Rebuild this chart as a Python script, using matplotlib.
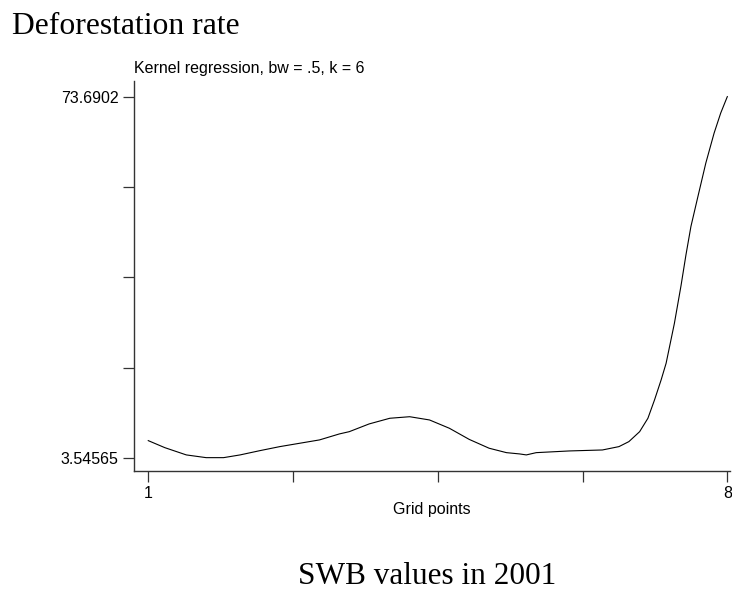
import matplotlib
matplotlib.use("Agg")
import matplotlib.pyplot as plt

# kernel regression curve
grid = [1.00, 1.20, 1.46, 1.70, 1.91, 2.11, 2.35, 2.59, 2.83, 3.07, 3.31, 3.43,
        3.67, 3.92, 4.16, 4.40, 4.64, 4.88, 5.12, 5.33, 5.49, 5.57, 5.69, 6.09,
        6.49, 6.69, 6.81, 6.94, 7.04, 7.12, 7.20, 7.26, 7.36, 7.44, 7.50, 7.56,
        7.64, 7.74, 7.84, 7.92, 8.00]
defor = [6.96, 5.60, 4.19, 3.66, 3.66, 4.19, 5.02, 5.80, 6.45, 7.10, 8.26, 8.70,
         10.20, 11.30, 11.60, 10.97, 9.36, 7.20, 5.49, 4.63, 4.38, 4.19, 4.63, 4.96,
         5.15, 5.80, 6.77, 8.70, 11.30, 14.86, 18.75, 21.97, 29.70, 37.00, 43.00, 48.50,
         54.00, 60.80, 66.60, 70.50, 73.69]

ymin, ymax = 3.54565, 73.6902
xticks = [1, 2.75, 4.5, 6.25, 8]
xlabels = ["1", "", "", "", "8"]
yticks = [ymin + i * (ymax - ymin) / 4 for i in range(5)]
ylabels = ["3.54565", "", "", "", "73.6902"]

fig = plt.figure(figsize=(7.32, 5.92), dpi=100)
ax = fig.add_axes([0.183, 0.205, 0.814, 0.658])

ax.plot(grid, defor, color="black", linewidth=0.8)

ax.set_xlim(0.827, 8.03)
ax.set_ylim(1.14, 76.7)
ax.set_xticks(xticks)
ax.set_xticklabels(xlabels)
ax.set_yticks(yticks)
ax.set_yticklabels(ylabels)

sans = "Liberation Sans"
serif = "Liberation Serif"
for lab in ax.get_xticklabels() + ax.get_yticklabels():
    lab.set_family(sans)
    lab.set_fontsize(11.5)
ax.tick_params(axis="both", length=8, width=0.9, color="#333333", pad=3)

for side in ["top", "right"]:
    ax.spines[side].set_visible(False)
for side in ["left", "bottom"]:
    ax.spines[side].set_color("#333333")
    ax.spines[side].set_linewidth(1.0)

ax.set_xlabel("Grid points", family=sans, fontsize=11.5, labelpad=1)
ax.set_title("Kernel regression, bw = .5, k = 6", family=sans, fontsize=11.5,
             loc="left", pad=6)

fig.text(0.016, 0.955, "Deforestation rate", family=serif, fontsize=22.8,
         ha="left", va="center")
fig.text(0.583, 0.027, "SWB values in 2001", family=serif, fontsize=22.5,
         ha="center", va="center")

fig.savefig("out.png", dpi=100)
